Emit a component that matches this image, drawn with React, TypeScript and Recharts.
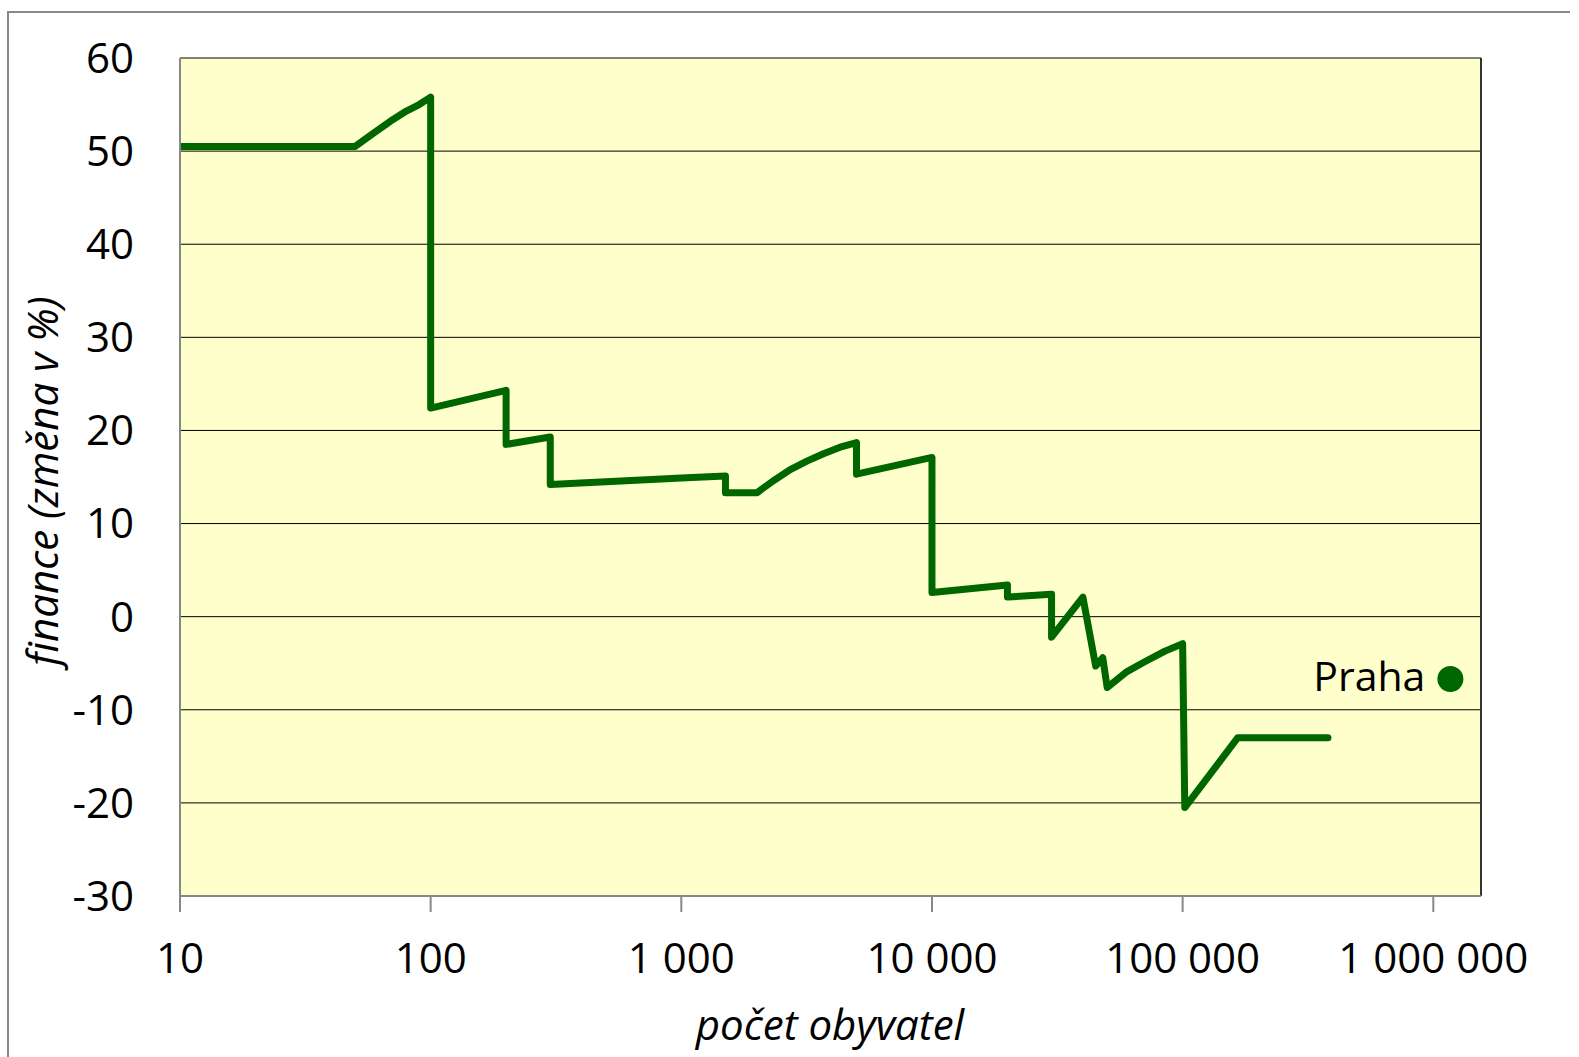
import { ComposedChart, Line, Scatter, XAxis, YAxis, CartesianGrid, ReferenceLine, Label } from 'recharts';

// počet obyvatel / změna financí (%)
const population = [
  10, 50, 59, 69, 80, 90, 100, 100, 200, 200, 300, 300, 500, 1000, 1500, 1500, 2000, 2330, 2720, 3170, 3690, 4300, 5000,
  5000, 10000, 10000, 20000, 20000, 30000, 30000, 40000, 45000, 48000, 50000, 60000, 70000, 85000, 100000,
  102000, 166000, 380000,
];
const financeChange = [
  50.5, 50.5, 51.9, 53.2, 54.3, 55.0, 55.8, 22.4, 24.3, 18.5, 19.3, 14.2, 14.5, 14.9, 15.1, 13.3, 13.3, 14.6, 15.8, 16.7, 17.5, 18.2, 18.7,
  15.3, 17.1, 2.6, 3.4, 2.1, 2.4, -2.2, 2.1, -5.3, -4.4, -7.6, -5.9, -4.9, -3.7, -2.9,
  -20.5, -13.0, -13.0,
];

const prahaPopulation = [1170000];
const prahaChange = [-6.7];

const xTicks = [10, 100, 1000, 10000, 100000, 1000000];
const yTicks = [-30, -20, -10, 0, 10, 20, 30, 40, 50, 60];

const X_MAX = 1550000;
const GREEN = '#006600';
const FONT = '"Open Sans", sans-serif';

const lineData = population.map((x, i) => ({ x, y: financeChange[i] }));
const prahaData = prahaPopulation.map((x, i) => ({ x, y: prahaChange[i] }));

const fmtThousands = (v: number) => String(v).replace(/\B(?=(\d{3})+(?!\d))/g, ' ');

const PrahaDot = (props: any) => {
  const { cx, cy } = props;
  return (
    <g>
      <circle cx={cx} cy={cy} r={13} fill={GREEN} />
      <text x={cx - 25} y={cy + 12} textAnchor="end" fontSize={41} fontFamily={FONT} fill="#000">
        Praha
      </text>
    </g>
  );
};

export default function App() {
  return (
    <div style={{ position: 'absolute', left: 0, top: 0, width: 1579, height: 1057, background: '#fff' }}>
      {/* outer chart frame */}
      <div
        style={{
          position: 'absolute', left: 7, top: 11, width: 1561, height: 1046,
          borderLeft: '2px solid #888', borderTop: '2px solid #888',
        }}
      />
      <ComposedChart width={1579} height={1057} margin={{ top: 58, right: 98, left: 0, bottom: 0 }}>
        <CartesianGrid vertical={false} stroke="#000" strokeWidth={1} fill="#FFFFCC" fillOpacity={1} />
        <XAxis
          type="number"
          dataKey="x"
          scale="log"
          domain={[10, X_MAX]}
          allowDataOverflow
          ticks={xTicks}
          interval={0}
          height={161}
          tickSize={16}
          tickMargin={31}
          tickFormatter={fmtThousands}
          axisLine={{ stroke: '#888', strokeWidth: 2 }}
          tickLine={{ stroke: '#888', strokeWidth: 2 }}
          tick={{ fill: '#000', fontSize: 42, fontFamily: FONT }}
        >
          <Label
            content={() => (
              <text x={830} y={1040} textAnchor="middle" fontSize={42} fontStyle="italic" fontFamily={FONT} fill="#000">
                počet obyvatel
              </text>
            )}
          />
        </XAxis>
        <YAxis
          type="number"
          domain={[-30, 60]}
          ticks={yTicks}
          interval={0}
          width={180}
          tickSize={0}
          tickMargin={46}
          axisLine={{ stroke: '#888', strokeWidth: 2 }}
          tickLine={false}
          tick={{ fill: '#000', fontSize: 42, fontFamily: FONT }}
        >
          <Label
            content={() => (
              <text
                x={58}
                y={481}
                transform="rotate(-90 58 481)"
                textAnchor="middle"
                fontSize={42}
                fontStyle="italic"
                fontFamily={FONT}
                fill="#000"
              >
                finance (změna v %)
              </text>
            )}
          />
        </YAxis>
        <ReferenceLine x={X_MAX} stroke="#333" strokeWidth={2} />
        <Line
          data={lineData}
          dataKey="y"
          type="linear"
          stroke={GREEN}
          strokeWidth={7}
          strokeLinejoin="round"
          strokeLinecap="round"
          dot={false}
          activeDot={false}
          isAnimationActive={false}
        />
        <Scatter data={prahaData} dataKey="y" shape={PrahaDot} isAnimationActive={false} />
      </ComposedChart>
    </div>
  );
}
